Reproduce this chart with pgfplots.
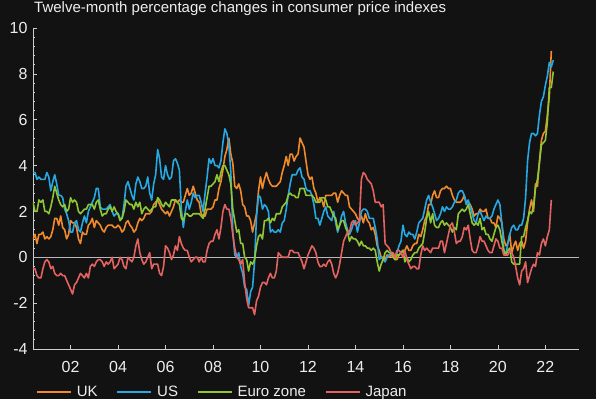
\documentclass[border=0pt]{standalone}
\usepackage{fontspec}
\setmainfont{Liberation Sans}
\usepackage{pgfplots}
\usepackage{pgfplotstable}
\pgfplotsset{compat=1.18}
\definecolor{bg}{RGB}{18,18,18}
\definecolor{ukc}{RGB}{240,138,44}
\definecolor{usc}{RGB}{38,168,226}
\definecolor{ezc}{RGB}{142,198,52}
\definecolor{jpc}{RGB}{228,98,96}
\definecolor{axc}{RGB}{205,205,205}
\definecolor{zlc}{RGB}{185,185,185}
\definecolor{txc}{RGB}{238,238,238}

% Monthly values, first value = June 2000
\pgfplotstableread[row sep=\\]{v\\
0.8\\ 1.0\\ 0.6\\ 1.0\\ 1.0\\ 1.1\\ 0.8\\
0.9\\ 0.8\\ 0.9\\ 1.2\\ 1.7\\ 1.7\\ 1.4\\ 1.8\\ 1.3\\ 1.2\\ 0.8\\ 1.0\\
1.6\\ 1.5\\ 1.5\\ 1.3\\ 0.8\\ 0.6\\ 1.1\\ 1.0\\ 1.0\\ 1.4\\ 1.5\\ 1.7\\
1.3\\ 1.6\\ 1.5\\ 1.4\\ 1.2\\ 1.1\\ 1.3\\ 1.4\\ 1.4\\ 1.4\\ 1.3\\ 1.3\\
1.4\\ 1.3\\ 1.1\\ 1.2\\ 1.5\\ 1.6\\ 1.4\\ 1.3\\ 1.1\\ 1.2\\ 1.5\\ 1.7\\
1.6\\ 1.7\\ 1.9\\ 1.9\\ 1.9\\ 2.0\\ 2.3\\ 2.4\\ 2.5\\ 2.3\\ 2.1\\ 2.0\\
1.9\\ 2.0\\ 1.8\\ 2.0\\ 2.2\\ 2.5\\ 2.4\\ 2.5\\ 2.4\\ 2.4\\ 2.7\\ 3.0\\
2.7\\ 2.8\\ 3.1\\ 2.8\\ 2.5\\ 2.4\\ 1.9\\ 1.8\\ 1.8\\ 2.1\\ 2.1\\ 2.1\\
2.2\\ 2.5\\ 2.5\\ 3.0\\ 3.3\\ 3.8\\ 4.4\\ 4.7\\ 5.2\\ 4.5\\ 4.1\\ 3.1\\
3.0\\ 3.2\\ 2.9\\ 2.3\\ 2.2\\ 1.8\\ 1.8\\ 1.6\\ 1.1\\ 1.5\\ 1.9\\ 2.9\\
3.5\\ 3.0\\ 3.4\\ 3.7\\ 3.4\\ 3.2\\ 3.1\\ 3.1\\ 3.1\\ 3.2\\ 3.3\\ 3.7\\
4.0\\ 4.4\\ 4.0\\ 4.5\\ 4.5\\ 4.2\\ 4.4\\ 4.5\\ 5.2\\ 5.0\\ 4.8\\ 4.2\\
3.6\\ 3.4\\ 3.5\\ 3.0\\ 2.8\\ 2.4\\ 2.6\\ 2.5\\ 2.2\\ 2.7\\ 2.7\\ 2.7\\
2.7\\ 2.8\\ 2.8\\ 2.4\\ 2.7\\ 2.9\\ 2.8\\ 2.7\\ 2.7\\ 2.2\\ 2.1\\ 2.0\\
1.9\\ 1.7\\ 1.6\\ 1.8\\ 1.5\\ 1.9\\ 1.6\\ 1.5\\ 1.2\\ 1.3\\ 1.0\\ 0.5\\
0.3\\ 0.0\\ 0.0\\ -0.1\\ 0.1\\ 0.0\\ 0.1\\ 0.0\\ -0.1\\ -0.1\\ 0.1\\ 0.2\\
0.3\\ 0.3\\ 0.5\\ 0.3\\ 0.3\\ 0.5\\ 0.6\\ 0.6\\ 1.0\\ 0.9\\ 1.2\\ 1.6\\
1.8\\ 2.3\\ 2.3\\ 2.7\\ 2.9\\ 2.6\\ 2.6\\ 2.9\\ 3.0\\ 3.0\\ 3.1\\ 3.0\\
3.0\\ 2.7\\ 2.5\\ 2.4\\ 2.4\\ 2.4\\ 2.5\\ 2.7\\ 2.4\\ 2.4\\ 2.3\\ 2.1\\
1.8\\ 1.9\\ 1.9\\ 2.1\\ 2.0\\ 2.0\\ 2.1\\ 1.7\\ 1.7\\ 1.5\\ 1.5\\ 1.3\\
1.8\\ 1.7\\ 1.5\\ 0.8\\ 0.5\\ 0.6\\ 1.0\\ 0.2\\ 0.5\\ 0.7\\ 0.3\\ 0.6\\
0.7\\ 0.4\\ 0.7\\ 1.5\\ 2.1\\ 2.5\\ 2.0\\ 3.2\\ 3.1\\ 4.2\\ 5.1\\ 5.4\\
5.5\\ 6.2\\ 7.0\\ 9.0\\
}\ukdata

\pgfplotstableread[row sep=\\]{v\\
3.7\\ 3.7\\ 3.4\\ 3.5\\ 3.4\\ 3.4\\ 3.4\\
3.7\\ 3.5\\ 2.9\\ 3.3\\ 3.6\\ 3.2\\ 2.7\\ 2.7\\ 2.6\\ 2.1\\ 1.9\\ 1.6\\
1.1\\ 1.1\\ 1.5\\ 1.6\\ 1.2\\ 1.1\\ 1.5\\ 1.8\\ 1.5\\ 2.0\\ 2.2\\ 2.4\\
2.6\\ 3.0\\ 3.0\\ 2.2\\ 2.1\\ 2.1\\ 2.1\\ 2.2\\ 2.3\\ 2.0\\ 1.8\\ 1.9\\
1.9\\ 1.7\\ 1.7\\ 2.3\\ 3.1\\ 3.3\\ 3.0\\ 2.7\\ 2.5\\ 3.2\\ 3.5\\ 3.3\\
3.0\\ 3.0\\ 3.1\\ 3.5\\ 2.8\\ 2.5\\ 3.2\\ 3.6\\ 4.7\\ 4.3\\ 3.5\\ 3.4\\
4.0\\ 3.6\\ 3.4\\ 3.5\\ 4.2\\ 4.3\\ 4.1\\ 3.8\\ 2.1\\ 1.3\\ 2.0\\ 2.5\\
2.1\\ 2.4\\ 2.8\\ 2.6\\ 2.7\\ 2.7\\ 2.4\\ 2.0\\ 2.8\\ 3.5\\ 4.3\\ 4.1\\
4.3\\ 4.0\\ 4.0\\ 3.9\\ 4.2\\ 5.0\\ 5.6\\ 5.4\\ 4.9\\ 3.7\\ 1.1\\ 0.1\\
0.0\\ 0.2\\ -0.4\\ -0.7\\ -1.3\\ -1.4\\ -2.1\\ -1.5\\ -1.3\\ -0.2\\ 1.8\\ 2.7\\
2.6\\ 2.1\\ 2.3\\ 2.2\\ 2.0\\ 1.1\\ 1.2\\ 1.1\\ 1.1\\ 1.2\\ 1.1\\ 1.5\\
1.6\\ 2.1\\ 2.7\\ 3.2\\ 3.6\\ 3.6\\ 3.6\\ 3.8\\ 3.9\\ 3.5\\ 3.4\\ 3.0\\
2.9\\ 2.9\\ 2.7\\ 2.3\\ 1.7\\ 1.7\\ 1.4\\ 1.7\\ 2.0\\ 2.2\\ 1.8\\ 1.7\\
1.6\\ 2.0\\ 1.5\\ 1.1\\ 1.4\\ 1.8\\ 2.0\\ 1.5\\ 1.2\\ 1.0\\ 1.2\\ 1.5\\
1.6\\ 1.1\\ 1.5\\ 2.0\\ 2.1\\ 2.1\\ 2.0\\ 1.7\\ 1.7\\ 1.7\\ 1.3\\ 0.8\\
-0.1\\ 0.0\\ -0.1\\ -0.2\\ 0.0\\ 0.1\\ 0.2\\ 0.2\\ 0.0\\ 0.2\\ 0.5\\ 0.7\\
1.4\\ 1.0\\ 0.9\\ 1.1\\ 1.0\\ 1.0\\ 0.8\\ 1.1\\ 1.5\\ 1.6\\ 1.7\\ 2.1\\
2.5\\ 2.7\\ 2.4\\ 2.2\\ 1.9\\ 1.6\\ 1.7\\ 1.9\\ 2.2\\ 2.0\\ 2.2\\ 2.1\\
2.1\\ 2.2\\ 2.4\\ 2.5\\ 2.8\\ 2.9\\ 2.9\\ 2.7\\ 2.3\\ 2.5\\ 2.2\\ 1.9\\
1.6\\ 1.5\\ 1.9\\ 2.0\\ 1.8\\ 1.6\\ 1.8\\ 1.7\\ 1.7\\ 1.8\\ 2.1\\ 2.3\\
2.5\\ 2.3\\ 1.5\\ 0.3\\ 0.1\\ 0.6\\ 1.0\\ 1.3\\ 1.4\\ 1.2\\ 1.2\\ 1.4\\
1.4\\ 1.7\\ 2.6\\ 4.2\\ 5.0\\ 5.4\\ 5.4\\ 5.3\\ 5.4\\ 6.2\\ 6.8\\ 7.0\\
7.5\\ 7.9\\ 8.5\\ 8.3\\ 8.6\\
}\usdata

\pgfplotstableread[row sep=\\]{v\\
2.4\\ 2.0\\ 2.0\\ 2.5\\ 2.4\\ 2.5\\ 2.0\\
2.0\\ 1.9\\ 2.2\\ 2.6\\ 3.1\\ 2.8\\ 2.5\\ 2.3\\ 2.2\\ 2.3\\ 2.0\\ 2.1\\
2.6\\ 2.4\\ 2.5\\ 2.4\\ 2.0\\ 1.9\\ 2.0\\ 2.1\\ 2.1\\ 2.3\\ 2.3\\ 2.3\\
2.1\\ 2.4\\ 2.5\\ 2.1\\ 1.8\\ 1.9\\ 1.9\\ 2.1\\ 2.2\\ 2.0\\ 2.2\\ 2.0\\
1.9\\ 1.6\\ 1.7\\ 2.0\\ 2.5\\ 2.4\\ 2.3\\ 2.3\\ 2.1\\ 2.4\\ 2.2\\ 2.4\\
1.9\\ 2.1\\ 2.2\\ 2.1\\ 2.0\\ 2.1\\ 2.2\\ 2.2\\ 2.6\\ 2.5\\ 2.3\\ 2.2\\
2.4\\ 2.3\\ 2.2\\ 2.5\\ 2.5\\ 2.5\\ 2.4\\ 2.3\\ 1.7\\ 1.6\\ 1.9\\ 1.9\\
1.8\\ 1.8\\ 1.9\\ 1.9\\ 1.9\\ 1.9\\ 1.8\\ 1.7\\ 2.1\\ 2.6\\ 3.1\\ 3.1\\
3.2\\ 3.3\\ 3.6\\ 3.3\\ 3.7\\ 4.0\\ 4.0\\ 3.8\\ 3.6\\ 3.2\\ 2.1\\ 1.6\\
1.1\\ 1.2\\ 0.6\\ 0.6\\ 0.0\\ -0.1\\ -0.6\\ -0.2\\ -0.3\\ -0.1\\ 0.5\\ 0.9\\
1.0\\ 0.8\\ 1.6\\ 1.6\\ 1.7\\ 1.5\\ 1.7\\ 1.6\\ 1.9\\ 1.9\\ 1.9\\ 2.2\\
2.3\\ 2.4\\ 2.7\\ 2.8\\ 2.7\\ 2.7\\ 2.6\\ 2.6\\ 3.0\\ 3.0\\ 3.0\\ 2.7\\
2.7\\ 2.7\\ 2.7\\ 2.6\\ 2.4\\ 2.4\\ 2.4\\ 2.6\\ 2.6\\ 2.5\\ 2.2\\ 2.2\\
2.0\\ 1.8\\ 1.7\\ 1.2\\ 1.4\\ 1.6\\ 1.6\\ 1.3\\ 1.1\\ 0.7\\ 0.9\\ 0.8\\
0.8\\ 0.7\\ 0.5\\ 0.7\\ 0.5\\ 0.5\\ 0.4\\ 0.4\\ 0.3\\ 0.4\\ 0.3\\ -0.2\\
-0.6\\ -0.3\\ -0.1\\ 0.2\\ 0.3\\ 0.2\\ 0.2\\ 0.1\\ -0.1\\ 0.1\\ 0.1\\ 0.2\\
0.3\\ -0.2\\ 0.0\\ -0.2\\ -0.1\\ 0.1\\ 0.2\\ 0.2\\ 0.4\\ 0.5\\ 0.6\\ 1.1\\
1.7\\ 2.0\\ 1.5\\ 1.9\\ 1.4\\ 1.3\\ 1.3\\ 1.5\\ 1.6\\ 1.4\\ 1.5\\ 1.4\\
1.3\\ 1.1\\ 1.3\\ 1.2\\ 1.9\\ 2.0\\ 2.1\\ 2.0\\ 2.1\\ 2.3\\ 1.9\\ 1.5\\
1.4\\ 1.5\\ 1.4\\ 1.7\\ 1.2\\ 1.3\\ 1.0\\ 1.0\\ 0.8\\ 0.7\\ 1.0\\ 1.3\\
1.4\\ 1.2\\ 0.7\\ 0.3\\ 0.1\\ 0.3\\ 0.4\\ -0.2\\ -0.3\\ -0.3\\ -0.3\\ -0.3\\
0.9\\ 0.9\\ 1.3\\ 1.6\\ 2.0\\ 1.9\\ 2.2\\ 3.0\\ 3.4\\ 4.1\\ 4.9\\ 5.0\\
5.1\\ 5.9\\ 7.4\\ 7.4\\ 8.1\\
}\ezdata

\pgfplotstableread[row sep=\\]{v\\
-0.5\\ -0.5\\ -0.8\\ -0.9\\ -0.9\\ -0.5\\ -0.2\\
-0.1\\ -0.2\\ -0.5\\ -0.4\\ -0.7\\ -0.8\\ -0.8\\ -0.7\\ -0.8\\ -0.8\\ -1.0\\ -1.2\\
-1.4\\ -1.6\\ -1.2\\ -1.1\\ -0.9\\ -0.7\\ -0.8\\ -0.9\\ -0.7\\ -0.9\\ -0.4\\ -0.3\\
-0.4\\ -0.2\\ -0.1\\ -0.1\\ -0.2\\ -0.4\\ -0.2\\ -0.3\\ -0.2\\ 0.0\\ -0.5\\ -0.4\\
-0.3\\ 0.0\\ -0.1\\ -0.4\\ -0.5\\ 0.0\\ -0.1\\ -0.2\\ 0.0\\ 0.5\\ 0.8\\ 0.2\\
-0.1\\ -0.3\\ -0.2\\ 0.0\\ 0.2\\ -0.5\\ -0.3\\ -0.3\\ -0.3\\ -0.7\\ -0.8\\ -0.4\\
0.5\\ 0.4\\ 0.2\\ -0.1\\ 0.1\\ 0.5\\ 0.3\\ 0.9\\ 0.6\\ 0.4\\ 0.3\\ 0.3\\
0.0\\ -0.2\\ -0.1\\ 0.0\\ 0.0\\ -0.2\\ 0.0\\ -0.2\\ -0.2\\ 0.3\\ 0.6\\ 0.7\\
0.7\\ 1.0\\ 1.2\\ 0.8\\ 1.3\\ 2.0\\ 2.3\\ 2.1\\ 2.1\\ 1.7\\ 1.0\\ 0.4\\
0.0\\ -0.1\\ -0.3\\ -0.1\\ -1.1\\ -1.8\\ -2.2\\ -2.2\\ -2.2\\ -2.5\\ -1.9\\ -1.7\\
-1.3\\ -1.1\\ -1.1\\ -1.2\\ -0.9\\ -0.7\\ -0.9\\ -0.9\\ -0.6\\ 0.2\\ 0.1\\ 0.0\\
0.0\\ 0.0\\ 0.0\\ 0.3\\ 0.3\\ 0.2\\ 0.2\\ 0.2\\ 0.0\\ -0.2\\ -0.5\\ -0.2\\
0.1\\ 0.3\\ 0.5\\ 0.4\\ 0.2\\ -0.2\\ -0.4\\ -0.4\\ -0.3\\ -0.4\\ -0.2\\ -0.1\\
-0.3\\ -0.7\\ -0.9\\ -0.7\\ -0.3\\ 0.2\\ 0.7\\ 0.9\\ 1.1\\ 1.1\\ 1.5\\ 1.6\\
1.4\\ 1.5\\ 1.6\\ 3.4\\ 3.7\\ 3.6\\ 3.4\\ 3.3\\ 3.2\\ 2.9\\ 2.4\\ 2.4\\
2.4\\ 2.2\\ 2.3\\ 0.6\\ 0.5\\ 0.4\\ 0.2\\ 0.2\\ 0.0\\ 0.3\\ 0.3\\ 0.2\\
0.0\\ 0.3\\ -0.1\\ -0.3\\ -0.5\\ -0.4\\ -0.4\\ -0.5\\ -0.5\\ 0.1\\ 0.5\\ 0.3\\
0.4\\ 0.3\\ 0.2\\ 0.4\\ 0.4\\ 0.4\\ 0.4\\ 0.7\\ 0.7\\ 0.2\\ 0.6\\ 1.0\\
1.4\\ 1.5\\ 1.1\\ 0.6\\ 0.7\\ 0.7\\ 0.9\\ 1.3\\ 1.2\\ 1.4\\ 0.8\\ 0.3\\
0.2\\ 0.2\\ 0.5\\ 0.9\\ 0.7\\ 0.7\\ 0.5\\ 0.3\\ 0.2\\ 0.2\\ 0.5\\ 0.8\\
0.7\\ 0.4\\ 0.4\\ 0.1\\ 0.1\\ 0.1\\ 0.3\\ 0.2\\ 0.0\\ -0.4\\ -0.9\\ -1.2\\
-0.6\\ -0.5\\ -0.2\\ -1.1\\ -0.8\\ -0.5\\ -0.3\\ -0.4\\ 0.2\\ 0.1\\ 0.6\\ 0.8\\
0.5\\ 0.9\\ 1.2\\ 2.5\\
}\jpdata

\begin{document}
\begin{tikzpicture}
\fill[bg] (-33bp,-50bp) rectangle (563bp,349bp);
\begin{axis}[
  at={(0,0)}, anchor=south west,
  scale only axis, width=546bp, height=321bp,
  xmin=2000.4167, xmax=2023.4167, ymin=-4, ymax=10,
  axis x line*=bottom, axis y line*=left,
  axis line style={axc, line width=0.9bp, -},
  tick align=inside,
  major tick length=4bp, minor tick length=2.5bp,
  every tick/.style={axc, line width=0.7bp},
  xtick={2002,2004,...,2022},
  xticklabels={02,04,06,08,10,12,14,16,18,20,22},
  minor x tick num=7,
  ytick={-4,-2,...,10}, minor y tick num=4,
  /pgf/number format/assume math mode=true,
  tick label style={font=\fontsize{16bp}{18bp}\selectfont, text=txc},
  x tick label style={yshift=-9bp},
  y tick label style={xshift=-2bp},
  extra y ticks={0}, extra y tick labels={},
  extra y tick style={grid=major, major grid style={color=zlc, line width=0.9bp}, major tick length=0pt},
  title={Twelve-month percentage changes in consumer price indexes},
  title style={at={(0,1)}, anchor=base west, yshift=9.5bp, xshift=1bp,
    font=\fontsize{15bp}{18bp}\selectfont, text=txc, inner sep=0pt},
  legend columns=4,
  legend style={draw=none, fill=none, text=txc, font=\fontsize{15bp}{18bp}\selectfont,
    at={(0,0)}, anchor=west, xshift=3bp, yshift=-43bp, inner sep=0pt,
    /tikz/every even column/.append style={column sep=17bp}},
  legend image code/.code={\draw[#1] (0bp,0bp) -- (34bp,0bp); \path (37bp,0bp);},
  every axis plot/.append style={line width=1.6bp, line join=round},
]
\addplot[ukc] table[x expr=2000.4167+\coordindex/12, y=v] {\ukdata};
\addlegendentry{UK}
\addplot[usc] table[x expr=2000.4167+\coordindex/12, y=v] {\usdata};
\addlegendentry{US}
\addplot[ezc] table[x expr=2000.4167+\coordindex/12, y=v] {\ezdata};
\addlegendentry{Euro zone}
\addplot[jpc] table[x expr=2000.4167+\coordindex/12, y=v] {\jpdata};
\addlegendentry{Japan}
\end{axis}
\pgfresetboundingbox
\path[use as bounding box] (-33bp,-50bp) rectangle (563bp,349bp);
\end{tikzpicture}
\end{document}
